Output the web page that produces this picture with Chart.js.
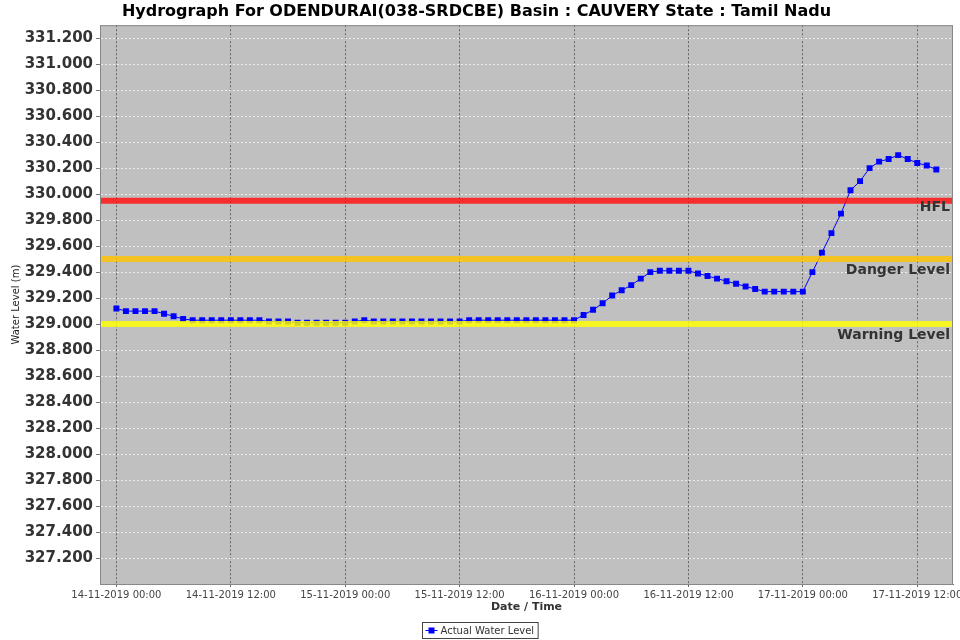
<!DOCTYPE html>
<html>
<head>
<meta charset="utf-8">
<script src="https://cdn.jsdelivr.net/npm/chart.js@4"></script>
<style>
  html, body { margin: 0; padding: 0; background: #fff; }
  #wrap { width: 960px; height: 640px; }
</style>
</head>
<body>
<div id="wrap"><canvas id="hydro" width="960" height="640"></canvas></div>
<script>
// hourly readings starting 14-11-2019 00:00
const waterLevel = [
  329.12, 329.10, 329.10, 329.10, 329.10, 329.08, 329.06, 329.04,
  329.03, 329.03, 329.03, 329.03, 329.03, 329.03, 329.03, 329.03,
  329.02, 329.02, 329.02, 329.01, 329.01, 329.01, 329.01, 329.01,
  329.01, 329.02, 329.03, 329.02, 329.02, 329.02, 329.02, 329.02,
  329.02, 329.02, 329.02, 329.02, 329.02, 329.03, 329.03, 329.03,
  329.03, 329.03, 329.03, 329.03, 329.03, 329.03, 329.03, 329.03,
  329.03, 329.07, 329.11, 329.16, 329.22, 329.26, 329.30, 329.35,
  329.40, 329.41, 329.41, 329.41, 329.41, 329.39, 329.37, 329.35,
  329.33, 329.31, 329.29, 329.27, 329.25, 329.25, 329.25, 329.25,
  329.25, 329.40, 329.55, 329.70, 329.85, 330.03, 330.10, 330.20,
  330.25, 330.27, 330.30, 330.27, 330.24, 330.22, 330.19
];

// hours after 14-11-2019 00:00
const xTicks = [0, 12, 24, 36, 48, 60, 72, 84];
const xLabels = [
  "14-11-2019 00:00", "14-11-2019 12:00", "15-11-2019 00:00", "15-11-2019 12:00",
  "16-11-2019 00:00", "16-11-2019 12:00", "17-11-2019 00:00", "17-11-2019 12:00"
];
const yTicks = [327.2, 327.4, 327.6, 327.8, 328.0, 328.2, 328.4, 328.6, 328.8, 329.0,
  329.2, 329.4, 329.6, 329.8, 330.0, 330.2, 330.4, 330.6, 330.8, 331.0, 331.2];

const levelNames = ["HFL", "Danger Level", "Warning Level"];
const levelValues = [329.95, 329.5, 329.0];
const levelColors = ["rgba(255,20,20,0.85)", "rgba(255,195,0,0.82)", "rgba(255,255,0,0.82)"];
const labelOffsets = [7, 11, 11];

const X_MIN = -1.72, X_MAX = 87.75;
const FONT = "'DejaVu Sans', sans-serif";

const levelDatasets = levelValues.map((v, i) => ({
  label: levelNames[i],
  data: [{ x: X_MIN, y: v }, { x: X_MAX, y: v }],
  borderColor: levelColors[i],
  borderWidth: 6,
  pointRadius: 0
}));

const plotBackground = {
  id: 'plotBackground',
  beforeDraw(chart) {
    const { ctx, chartArea: a } = chart;
    ctx.save();
    ctx.fillStyle = '#c0c0c0';
    ctx.fillRect(a.left, a.top, a.right - a.left, a.bottom - a.top);
    ctx.restore();
  }
};

const extras = {
  id: 'extras',
  afterDatasetsDraw(chart) {
    const { ctx, chartArea: a } = chart;
    const y = chart.scales.y;
    ctx.save();
    ctx.font = "bold 14px " + FONT;
    ctx.fillStyle = '#333';
    ctx.textAlign = 'right';
    ctx.textBaseline = 'middle';
    levelNames.forEach((name, i) => {
      ctx.fillText(name, a.right - 3, y.getPixelForValue(levelValues[i]) + labelOffsets[i]);
    });
    ctx.restore();
  },
  afterDraw(chart) {
    const { ctx, chartArea: a } = chart;
    ctx.save();
    ctx.strokeStyle = '#888';
    ctx.lineWidth = 1;
    ctx.strokeRect(a.left + 0.5, a.top + 0.5, a.right - a.left - 1, a.bottom - a.top);

    // legend
    const text = "Actual Water Level";
    ctx.font = "10px " + FONT;
    const tw = ctx.measureText(text).width;
    const w = tw + 22, h = 16;
    const lx = Math.round(chart.width / 2 - w / 2) + 0.5, ly = 622.5;
    ctx.strokeStyle = '#444';
    ctx.strokeRect(lx, ly, w, h);
    const my = ly + h / 2;
    ctx.strokeStyle = '#0000ff';
    ctx.beginPath();
    ctx.moveTo(lx + 3, my);
    ctx.lineTo(lx + 15, my);
    ctx.stroke();
    ctx.fillStyle = '#0000ff';
    ctx.fillRect(lx + 6, my - 3, 6, 6);
    ctx.fillStyle = '#333';
    ctx.textBaseline = 'middle';
    ctx.fillText(text, lx + 18, my + 0.5);
    ctx.restore();
  }
};

new Chart(document.getElementById('hydro').getContext('2d'), {
  type: 'line',
  data: {
    datasets: [
      ...levelDatasets,
      {
        label: "Actual Water Level",
        data: waterLevel.map((v, i) => ({ x: i, y: v })),
        borderColor: '#0000ff',
        borderWidth: 1,
        pointStyle: 'rect',
        pointRadius: 4.2,
        pointBorderWidth: 0,
        pointBackgroundColor: '#0000ff',
        tension: 0
      }
    ]
  },
  options: {
    responsive: false,
    animation: false,
    layout: { padding: { left: 0, right: 7, top: 0, bottom: 25 } },
    plugins: {
      legend: { display: false },
      tooltip: { enabled: false },
      title: {
        display: true,
        text: "Hydrograph For ODENDURAI(038-SRDCBE) Basin : CAUVERY State : Tamil Nadu",
        color: '#000',
        font: { family: FONT, size: 16, weight: 'bold', lineHeight: 1.2 },
        padding: { top: 2, bottom: 4 }
      }
    },
    scales: {
      x: {
        type: 'linear',
        min: X_MIN,
        max: X_MAX,
        afterBuildTicks: (axis) => { axis.ticks = xTicks.map(v => ({ value: v })); },
        afterFit: (s) => { s.height = 31; s.paddingLeft = 0; s.paddingRight = 0; },
        ticks: {
          autoSkip: false,
          maxRotation: 0,
          padding: 2,
          color: '#444',
          font: { family: FONT, size: 10 },
          callback: (v, i) => xLabels[i]
        },
        grid: { color: '#666', lineWidth: 1, tickLength: 3, tickColor: '#666' },
        border: { color: '#777', width: 1, dash: [2, 2] },
        title: {
          display: true,
          text: "Date / Time",
          color: '#333',
          font: { family: FONT, size: 11, weight: 'bold', lineHeight: 1.2 },
          padding: { top: 0, bottom: 1 }
        }
      },
      y: {
        type: 'linear',
        min: 327.0,
        max: 331.3,
        afterBuildTicks: (axis) => { axis.ticks = yTicks.map(v => ({ value: v })); },
        afterFit: (s) => { s.width = 100; },
        ticks: {
          padding: 3,
          color: '#333',
          font: { family: FONT, size: 15, weight: 'bold' },
          callback: (v) => Number(v).toFixed(3)
        },
        grid: { color: '#ececec', lineWidth: 1, tickLength: 4, tickColor: '#777' },
        border: { color: '#777', width: 1, dash: [2, 2] },
        title: {
          display: true,
          text: "Water Level (m)",
          color: '#222',
          font: { family: FONT, size: 10, lineHeight: 1.2 },
          padding: { top: 10, bottom: 0 }
        }
      }
    }
  },
  plugins: [plotBackground, extras]
});
</script>
</body>
</html>
